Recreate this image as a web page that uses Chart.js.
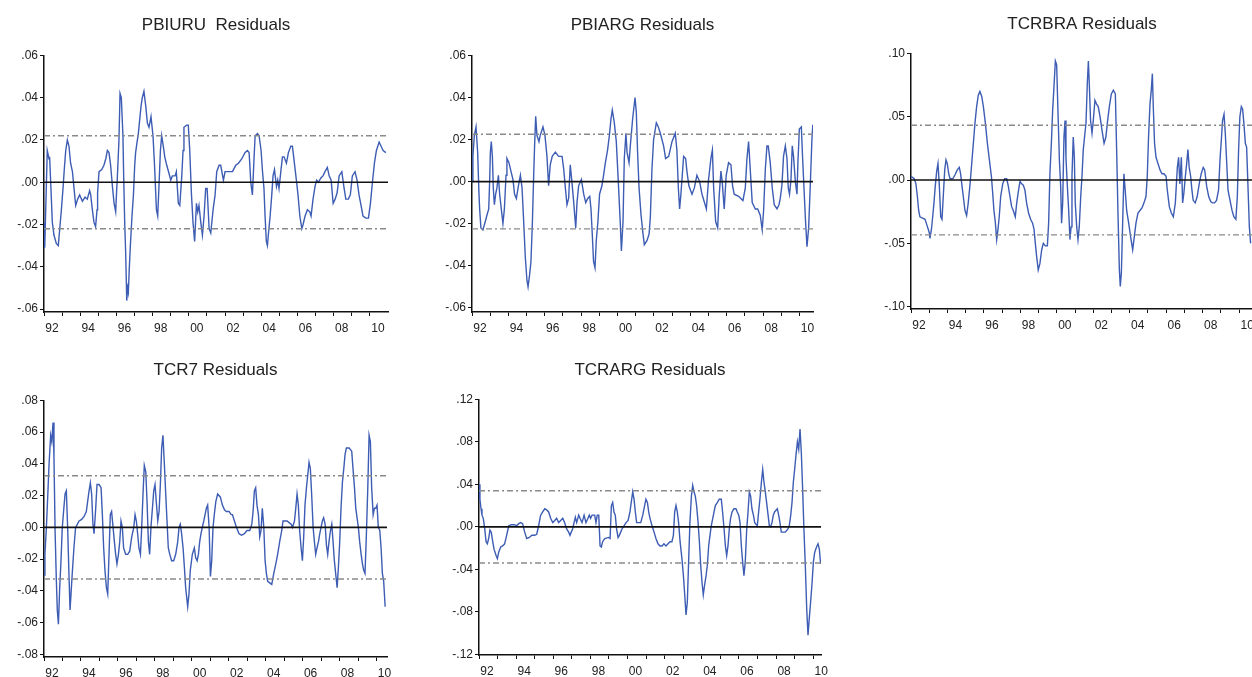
<!DOCTYPE html>
<html>
<head>
<meta charset="utf-8">
<script src="https://cdn.jsdelivr.net/npm/chart.js@4"></script>
<style>
  html, body { margin: 0; padding: 0; background: #fff; width: 1252px; height: 677px; overflow: hidden; }
  .panel { position: absolute; }
</style>
</head>
<body>
<div class="panel" id="p1" style="left:0px;top:0px;width:400px;height:340px"><canvas id="c1" width="400" height="340"></canvas></div>
<div class="panel" id="p2" style="left:428px;top:0px;width:397px;height:340px"><canvas id="c2" width="397" height="340"></canvas></div>
<div class="panel" id="p3" style="left:867px;top:0px;width:386px;height:340px"><canvas id="c3" width="386" height="340"></canvas></div>
<div class="panel" id="p4" style="left:0px;top:345px;width:400px;height:340px"><canvas id="c4" width="400" height="340"></canvas></div>
<div class="panel" id="p5" style="left:435px;top:345px;width:398px;height:340px"><canvas id="c5" width="398" height="340"></canvas></div>
<script>
// residuals: [year, residual] at the turning points
const pbiuru = [
  [1992.00,-0.019],[1992.04,-0.031],[1992.18,0.015],[1992.28,0.011],[1992.31,0.012],[1992.37,0.000],[1992.46,-0.019],[1992.55,-0.025],
  [1992.68,-0.029],[1992.79,-0.030],[1992.87,-0.022],[1992.96,-0.013],[1993.05,-0.003],[1993.12,0.006],[1993.20,0.015],[1993.29,0.020],
  [1993.38,0.017],[1993.47,0.009],[1993.57,0.005],[1993.66,-0.003],[1993.75,-0.011],[1993.86,-0.008],[1993.97,-0.006],[1994.12,-0.009],
  [1994.27,-0.007],[1994.39,-0.008],[1994.52,-0.004],[1994.58,-0.006],[1994.67,-0.013],[1994.76,-0.019],[1994.85,-0.021],[1994.93,-0.013],
  [1994.96,-0.005],[1995.04,0.005],[1995.19,0.006],[1995.31,0.008],[1995.41,0.011],[1995.50,0.015],[1995.59,0.014],[1995.68,0.008],
  [1995.78,-0.002],[1995.87,-0.010],[1995.96,-0.014],[1996.00,-0.006],[1996.05,0.002],[1996.14,0.020],[1996.20,0.042],[1996.27,0.040],
  [1996.36,0.022],[1996.40,0.003],[1996.46,-0.020],[1996.51,-0.033],[1996.57,-0.056],[1996.62,-0.050],[1996.66,-0.052],[1996.71,-0.041],
  [1996.77,-0.030],[1996.86,-0.016],[1996.94,-0.006],[1997.01,0.008],[1997.06,0.014],[1997.14,0.019],[1997.21,0.023],[1997.29,0.030],
  [1997.36,0.036],[1997.43,0.040],[1997.52,0.043],[1997.62,0.036],[1997.71,0.028],[1997.80,0.026],[1997.91,0.031],[1998.02,0.022],
  [1998.10,0.009],[1998.21,-0.013],[1998.28,-0.016],[1998.35,-0.002],[1998.43,0.015],[1998.50,0.022],[1998.59,0.017],[1998.67,0.012],
  [1998.78,0.008],[1998.91,0.004],[1999.00,0.001],[1999.09,0.003],[1999.24,0.003],[1999.31,0.005],[1999.42,-0.010],[1999.50,-0.011],
  [1999.61,0.003],[1999.68,0.015],[1999.73,0.026],[1999.88,0.027],[1999.97,0.027],[2000.05,0.015],[2000.14,-0.005],[2000.23,-0.019],
  [2000.32,-0.028],[2000.42,-0.010],[2000.49,-0.014],[2000.56,-0.011],[2000.66,-0.019],[2000.75,-0.025],[2000.84,-0.016],[2000.93,-0.003],
  [2001.01,-0.003],[2001.12,-0.022],[2001.21,-0.024],[2001.34,-0.013],[2001.45,-0.006],[2001.54,0.005],[2001.67,0.008],[2001.76,0.008],
  [2001.91,0.001],[2002.00,0.005],[2002.13,0.005],[2002.26,0.005],[2002.41,0.005],[2002.59,0.008],[2002.74,0.009],[2002.92,0.011],
  [2003.10,0.014],[2003.23,0.015],[2003.33,0.014],[2003.42,0.000],[2003.51,-0.006],[2003.60,0.011],[2003.66,0.022],[2003.79,0.023],
  [2003.88,0.022],[2003.99,0.015],[2004.06,0.006],[2004.15,-0.003],[2004.21,-0.016],[2004.28,-0.028],[2004.34,-0.030],[2004.39,-0.025],
  [2004.49,-0.016],[2004.58,-0.006],[2004.65,0.003],[2004.73,0.006],[2004.84,-0.002],[2004.91,0.001],[2004.98,-0.003],[2005.08,0.005],
  [2005.17,0.012],[2005.26,0.012],[2005.39,0.009],[2005.50,0.014],[2005.63,0.017],[2005.72,0.017],[2005.83,0.009],[2005.94,0.001],
  [2006.03,-0.006],[2006.13,-0.016],[2006.24,-0.022],[2006.31,-0.020],[2006.42,-0.016],[2006.55,-0.013],[2006.68,-0.014],[2006.75,-0.016],
  [2006.86,-0.008],[2006.97,-0.002],[2007.06,0.001],[2007.16,0.000],[2007.29,0.002],[2007.41,0.003],[2007.52,0.005],[2007.65,0.007],
  [2007.75,0.003],[2007.86,0.001],[2007.97,-0.010],[2008.08,-0.008],[2008.19,-0.005],[2008.30,0.003],[2008.45,0.005],[2008.56,-0.002],
  [2008.67,-0.008],[2008.81,-0.008],[2008.92,-0.006],[2009.03,0.003],[2009.18,0.005],[2009.29,0.001],[2009.40,-0.006],[2009.51,-0.011],
  [2009.62,-0.016],[2009.77,-0.017],[2009.92,-0.017],[2010.03,-0.010],[2010.14,0.000],[2010.25,0.009],[2010.36,0.015],[2010.51,0.019],
  [2010.62,0.017],[2010.73,0.015],[2010.88,0.014]
];
const pbiarg = [
  [1992.00,0.000],[1992.05,0.012],[1992.13,0.022],[1992.22,0.026],[1992.31,0.014],[1992.38,-0.005],[1992.42,-0.013],[1992.49,-0.022],
  [1992.60,-0.023],[1992.73,-0.019],[1992.82,-0.016],[1992.92,-0.013],[1992.97,0.000],[1993.01,0.014],[1993.06,0.019],[1993.12,0.012],
  [1993.17,-0.003],[1993.23,-0.011],[1993.30,-0.006],[1993.37,-0.003],[1993.45,0.003],[1993.52,-0.006],[1993.61,-0.013],[1993.70,-0.020],
  [1993.78,-0.013],[1993.87,0.003],[1993.92,0.011],[1994.03,0.009],[1994.14,0.005],[1994.25,0.001],[1994.34,-0.006],[1994.44,-0.008],
  [1994.55,-0.002],[1994.66,0.003],[1994.75,-0.003],[1994.84,-0.019],[1994.93,-0.036],[1995.02,-0.047],[1995.08,-0.050],[1995.17,-0.044],
  [1995.24,-0.038],[1995.32,-0.019],[1995.39,0.003],[1995.44,0.017],[1995.50,0.031],[1995.57,0.022],[1995.68,0.019],[1995.75,0.022],
  [1995.90,0.026],[1996.01,0.022],[1996.12,0.012],[1996.21,-0.002],[1996.30,0.008],[1996.41,0.012],[1996.58,0.014],[1996.76,0.012],
  [1996.95,0.012],[1997.04,0.006],[1997.13,-0.003],[1997.22,-0.011],[1997.31,-0.008],[1997.40,0.008],[1997.49,0.000],[1997.59,-0.010],
  [1997.70,-0.022],[1997.77,-0.010],[1997.86,-0.002],[1998.01,0.001],[1998.14,-0.006],[1998.25,-0.010],[1998.36,-0.008],[1998.47,-0.007],
  [1998.54,-0.013],[1998.61,-0.025],[1998.68,-0.038],[1998.76,-0.041],[1998.83,-0.028],[1998.92,-0.019],[1999.01,-0.006],[1999.14,-0.002],
  [1999.23,0.003],[1999.33,0.009],[1999.45,0.015],[1999.55,0.022],[1999.64,0.030],[1999.71,0.034],[1999.82,0.028],[1999.93,0.019],
  [2000.04,0.000],[2000.15,-0.020],[2000.21,-0.033],[2000.30,-0.019],[2000.37,0.011],[2000.46,0.023],[2000.52,0.014],[2000.63,0.009],
  [2000.70,0.017],[2000.83,0.030],[2000.96,0.040],[2001.03,0.033],[2001.10,0.014],[2001.18,-0.003],[2001.29,-0.016],[2001.40,-0.025],
  [2001.47,-0.030],[2001.62,-0.028],[2001.73,-0.025],[2001.80,-0.017],[2001.89,0.006],[2001.98,0.020],[2002.13,0.028],[2002.24,0.026],
  [2002.35,0.023],[2002.53,0.017],[2002.64,0.011],[2002.81,0.012],[2002.99,0.019],[2003.17,0.023],[2003.26,0.015],[2003.34,-0.003],
  [2003.41,-0.013],[2003.48,-0.006],[2003.63,0.012],[2003.74,0.011],[2003.81,0.005],[2003.92,-0.002],[2004.09,-0.006],[2004.22,-0.003],
  [2004.36,0.003],[2004.51,0.000],[2004.64,-0.006],[2004.88,-0.013],[2005.00,0.001],[2005.13,0.011],[2005.21,0.015],[2005.28,-0.003],
  [2005.39,-0.019],[2005.50,-0.022],[2005.59,-0.006],[2005.68,0.005],[2005.75,0.000],[2005.86,-0.013],[2005.97,0.003],[2006.10,0.009],
  [2006.23,0.008],[2006.32,-0.002],[2006.41,-0.006],[2006.65,-0.007],[2006.89,-0.009],[2007.02,-0.003],[2007.11,0.011],[2007.20,0.019],
  [2007.29,0.006],[2007.40,-0.010],[2007.57,-0.013],[2007.70,-0.013],[2007.84,-0.016],[2007.95,-0.023],[2008.03,-0.013],[2008.12,0.006],
  [2008.21,0.017],[2008.28,0.017],[2008.39,0.009],[2008.50,-0.003],[2008.61,-0.011],[2008.76,-0.013],[2008.87,-0.011],[2008.94,-0.008],
  [2009.03,-0.002],[2009.12,0.012],[2009.22,0.017],[2009.31,0.011],[2009.38,-0.003],[2009.45,-0.006],[2009.53,0.001],[2009.60,0.017],
  [2009.67,0.012],[2009.77,0.000],[2009.86,-0.006],[2009.91,0.009],[2009.99,0.025],[2010.10,0.026],[2010.17,0.011],[2010.26,-0.006],
  [2010.33,-0.019],[2010.41,-0.031],[2010.50,-0.022],[2010.59,-0.002],[2010.68,0.020],[2010.73,0.027]
];
const tcrbra = [
  [1992.00,0.003],[1992.18,0.001],[1992.27,-0.003],[1992.35,-0.013],[1992.42,-0.024],[1992.49,-0.029],[1992.64,-0.030],[1992.77,-0.031],
  [1992.86,-0.035],[1992.95,-0.039],[1993.01,-0.042],[1993.04,-0.046],[1993.12,-0.039],[1993.19,-0.029],[1993.26,-0.018],[1993.33,-0.005],
  [1993.41,0.007],[1993.48,0.013],[1993.55,-0.003],[1993.63,-0.029],[1993.70,-0.031],[1993.77,-0.013],[1993.85,0.008],[1993.92,0.016],
  [1993.99,0.013],[1994.07,0.005],[1994.14,0.001],[1994.29,0.001],[1994.41,0.004],[1994.54,0.008],[1994.65,0.010],[1994.72,0.005],
  [1994.80,-0.005],[1994.87,-0.013],[1994.96,-0.024],[1995.05,-0.028],[1995.14,-0.018],[1995.24,-0.003],[1995.33,0.013],[1995.42,0.029],
  [1995.51,0.045],[1995.60,0.058],[1995.69,0.067],[1995.78,0.070],[1995.88,0.066],[1995.97,0.058],[1996.08,0.045],[1996.19,0.029],
  [1996.30,0.016],[1996.41,0.003],[1996.48,-0.010],[1996.55,-0.024],[1996.63,-0.034],[1996.70,-0.047],[1996.77,-0.039],[1996.84,-0.029],
  [1996.92,-0.013],[1997.03,-0.003],[1997.14,0.001],[1997.25,0.001],[1997.34,-0.005],[1997.43,-0.013],[1997.52,-0.021],[1997.61,-0.024],
  [1997.72,-0.029],[1997.80,-0.018],[1997.90,-0.008],[1997.98,-0.001],[1998.07,-0.003],[1998.16,-0.004],[1998.25,-0.008],[1998.34,-0.018],
  [1998.45,-0.026],[1998.56,-0.031],[1998.67,-0.034],[1998.75,-0.039],[1998.82,-0.050],[1998.89,-0.060],[1998.98,-0.071],[1999.07,-0.066],
  [1999.17,-0.055],[1999.26,-0.050],[1999.37,-0.052],[1999.48,-0.052],[1999.55,-0.034],[1999.62,0.005],[1999.70,0.029],[1999.77,0.055],
  [1999.84,0.073],[1999.92,0.094],[1999.99,0.091],[2000.06,0.055],[2000.14,0.016],[2000.21,-0.005],[2000.26,-0.034],[2000.32,-0.018],
  [2000.39,0.034],[2000.45,0.047],[2000.50,0.018],[2000.57,-0.003],[2000.65,-0.024],[2000.72,-0.047],[2000.78,-0.037],[2000.83,0.003],
  [2000.90,0.034],[2000.96,0.018],[2001.01,-0.018],[2001.09,-0.037],[2001.16,-0.047],[2001.23,-0.037],[2001.31,-0.013],[2001.38,0.003],
  [2001.45,0.024],[2001.52,0.034],[2001.60,0.045],[2001.67,0.076],[2001.73,0.094],[2001.78,0.076],[2001.85,0.047],[2001.93,0.037],
  [2002.00,0.047],[2002.09,0.063],[2002.18,0.060],[2002.27,0.058],[2002.37,0.050],[2002.48,0.039],[2002.59,0.029],[2002.69,0.034],
  [2002.77,0.045],[2002.88,0.058],[2002.99,0.068],[2003.10,0.071],[2003.21,0.068],[2003.28,0.024],[2003.35,-0.024],[2003.43,-0.071],
  [2003.48,-0.084],[2003.54,-0.073],[2003.61,-0.034],[2003.68,0.005],[2003.75,-0.008],[2003.83,-0.024],[2003.94,-0.034],[2004.05,-0.045],
  [2004.16,-0.055],[2004.23,-0.047],[2004.34,-0.034],[2004.45,-0.026],[2004.56,-0.024],[2004.67,-0.022],[2004.78,-0.018],[2004.89,-0.013],
  [2004.96,0.003],[2005.03,0.034],[2005.11,0.060],[2005.18,0.071],[2005.24,0.084],[2005.29,0.058],[2005.36,0.029],[2005.44,0.018],
  [2005.55,0.013],[2005.66,0.008],[2005.77,0.005],[2005.88,0.005],[2005.99,0.003],[2006.06,-0.008],[2006.17,-0.021],[2006.28,-0.026],
  [2006.39,-0.029],[2006.50,-0.018],[2006.61,0.010],[2006.68,0.018],[2006.75,-0.003],[2006.83,0.018],[2006.90,-0.018],[2006.97,-0.010],
  [2007.05,0.003],[2007.12,0.013],[2007.19,0.024],[2007.26,0.010],[2007.34,0.003],[2007.41,-0.008],[2007.48,-0.016],[2007.59,-0.018],
  [2007.70,-0.013],[2007.81,-0.003],[2007.92,0.005],[2008.03,0.010],[2008.11,0.008],[2008.22,-0.005],[2008.33,-0.013],[2008.44,-0.017],
  [2008.54,-0.018],[2008.65,-0.018],[2008.76,-0.016],[2008.87,-0.008],[2008.95,0.016],[2009.02,0.031],[2009.09,0.047],[2009.17,0.052],
  [2009.24,0.037],[2009.31,0.016],[2009.39,-0.008],[2009.50,-0.016],[2009.61,-0.024],[2009.71,-0.029],[2009.82,-0.031],[2009.90,-0.013],
  [2009.97,0.024],[2010.04,0.050],[2010.12,0.058],[2010.19,0.056],[2010.26,0.045],[2010.34,0.029],[2010.41,0.026],[2010.48,-0.003],
  [2010.56,-0.037],[2010.63,-0.050]
];
const tcr7 = [
  [1992.00,-0.030],[1992.05,-0.017],[1992.13,0.000],[1992.20,0.019],[1992.27,0.039],[1992.36,0.058],[1992.42,0.054],[1992.49,0.066],
  [1992.54,0.044],[1992.60,-0.002],[1992.67,-0.034],[1992.72,-0.052],[1992.78,-0.061],[1992.85,-0.038],[1992.92,-0.021],[1992.99,0.000],
  [1993.06,0.010],[1993.14,0.021],[1993.21,0.023],[1993.28,0.000],[1993.35,-0.029],[1993.41,-0.052],[1993.46,-0.052],[1993.53,-0.029],
  [1993.62,-0.013],[1993.71,0.000],[1993.81,0.002],[1993.90,0.004],[1994.04,0.005],[1994.18,0.007],[1994.29,0.010],[1994.36,0.016],
  [1994.44,0.023],[1994.51,0.028],[1994.58,0.021],[1994.65,0.002],[1994.71,-0.004],[1994.80,0.012],[1994.87,0.027],[1994.98,0.027],
  [1995.09,0.025],[1995.16,0.008],[1995.23,-0.013],[1995.30,-0.027],[1995.38,-0.038],[1995.45,-0.042],[1995.52,-0.017],[1995.59,0.008],
  [1995.66,0.010],[1995.74,0.000],[1995.81,-0.009],[1995.88,-0.017],[1995.95,-0.023],[1996.03,-0.017],[1996.10,-0.009],[1996.17,0.004],
  [1996.24,0.000],[1996.31,-0.013],[1996.42,-0.017],[1996.53,-0.017],[1996.64,-0.015],[1996.75,-0.006],[1996.86,0.000],[1996.93,0.008],
  [1997.00,0.004],[1997.07,-0.004],[1997.14,-0.013],[1997.22,-0.017],[1997.29,0.000],[1997.36,0.021],[1997.43,0.039],[1997.51,0.035],
  [1997.58,0.016],[1997.65,-0.009],[1997.72,-0.017],[1997.79,0.000],[1997.87,0.012],[1997.94,0.023],[1998.01,0.027],[1998.08,0.016],
  [1998.16,0.004],[1998.23,0.010],[1998.30,0.027],[1998.37,0.050],[1998.44,0.058],[1998.52,0.039],[1998.59,0.021],[1998.66,0.004],
  [1998.73,-0.013],[1998.81,-0.017],[1998.91,-0.021],[1999.02,-0.021],[1999.13,-0.017],[1999.24,-0.009],[1999.31,0.000],[1999.38,0.002],
  [1999.45,-0.004],[1999.53,-0.013],[1999.60,-0.025],[1999.67,-0.038],[1999.78,-0.050],[1999.85,-0.042],[1999.92,-0.027],[2000.03,-0.017],
  [2000.14,-0.013],[2000.21,-0.019],[2000.29,-0.021],[2000.36,-0.017],[2000.43,-0.009],[2000.50,-0.004],[2000.57,0.000],[2000.65,0.004],
  [2000.72,0.008],[2000.79,0.012],[2000.86,0.014],[2000.94,0.000],[2001.01,-0.031],[2001.08,-0.021],[2001.15,0.000],[2001.22,0.008],
  [2001.30,0.016],[2001.40,0.021],[2001.55,0.019],[2001.66,0.014],[2001.77,0.011],[2001.87,0.010],[2002.02,0.010],[2002.13,0.008],
  [2002.20,0.008],[2002.31,0.004],[2002.42,0.000],[2002.56,-0.004],[2002.70,-0.005],[2002.85,-0.004],[2002.99,-0.002],[2003.14,-0.002],
  [2003.25,0.002],[2003.32,0.010],[2003.39,0.023],[2003.46,0.025],[2003.53,0.014],[2003.61,0.008],[2003.68,-0.006],[2003.75,-0.002],
  [2003.82,0.012],[2003.90,0.000],[2003.97,-0.021],[2004.04,-0.029],[2004.11,-0.034],[2004.22,-0.035],[2004.33,-0.036],[2004.44,-0.029],
  [2004.55,-0.023],[2004.65,-0.017],[2004.76,-0.009],[2004.87,-0.002],[2004.94,0.004],[2005.05,0.004],[2005.16,0.004],[2005.27,0.003],
  [2005.38,0.002],[2005.45,0.000],[2005.56,0.004],[2005.63,0.012],[2005.70,0.021],[2005.77,0.014],[2005.84,-0.002],[2005.92,-0.013],
  [2005.99,-0.021],[2006.06,-0.006],[2006.13,0.014],[2006.21,0.025],[2006.28,0.033],[2006.35,0.041],[2006.42,0.037],[2006.49,0.021],
  [2006.57,0.000],[2006.64,-0.009],[2006.71,-0.017],[2006.78,-0.013],[2006.86,-0.009],[2006.93,-0.004],[2007.00,0.000],[2007.07,0.004],
  [2007.14,0.006],[2007.22,0.002],[2007.29,-0.011],[2007.36,-0.017],[2007.43,-0.009],[2007.51,-0.002],[2007.58,0.002],[2007.65,-0.009],
  [2007.72,-0.021],[2007.79,-0.029],[2007.87,-0.038],[2007.94,-0.025],[2008.01,-0.009],[2008.08,0.012],[2008.16,0.029],[2008.23,0.037],
  [2008.30,0.046],[2008.37,0.050],[2008.52,0.050],[2008.66,0.048],[2008.73,0.037],[2008.81,0.025],[2008.88,0.012],[2008.95,0.006],
  [2009.02,0.000],[2009.09,-0.009],[2009.17,-0.017],[2009.24,-0.023],[2009.31,-0.027],[2009.38,-0.029],[2009.45,-0.006],[2009.53,0.025],
  [2009.60,0.058],[2009.67,0.054],[2009.74,0.025],[2009.82,0.008],[2009.89,0.012],[2009.96,0.012],[2010.03,0.014],[2010.10,0.000],
  [2010.18,-0.002],[2010.25,-0.013],[2010.32,-0.029],[2010.39,-0.034],[2010.47,-0.050]
];
const tcrarg = [
  [1992.00,0.040],[1992.05,0.026],[1992.11,0.017],[1992.16,0.011],[1992.23,0.008],[1992.31,-0.002],[1992.38,-0.014],[1992.45,-0.016],
  [1992.52,-0.011],[1992.59,-0.003],[1992.66,-0.005],[1992.74,-0.014],[1992.81,-0.021],[1992.92,-0.027],[1992.99,-0.030],[1993.06,-0.024],
  [1993.17,-0.019],[1993.27,-0.018],[1993.38,-0.016],[1993.49,-0.008],[1993.60,0.001],[1993.74,0.002],[1993.89,0.002],[1994.03,0.001],
  [1994.14,0.003],[1994.24,0.004],[1994.35,0.003],[1994.46,-0.005],[1994.57,-0.011],[1994.71,-0.010],[1994.85,-0.008],[1995.00,-0.008],
  [1995.11,-0.007],[1995.21,0.001],[1995.32,0.011],[1995.43,0.014],[1995.54,0.017],[1995.64,0.016],[1995.75,0.014],[1995.86,0.008],
  [1995.97,0.004],[1996.08,0.006],[1996.18,0.008],[1996.29,0.004],[1996.40,0.006],[1996.51,0.008],[1996.61,0.004],[1996.72,-0.002],
  [1996.83,-0.005],[1996.90,-0.008],[1996.97,-0.005],[1997.04,-0.002],[1997.12,0.004],[1997.19,0.009],[1997.26,0.004],[1997.37,0.011],
  [1997.44,0.008],[1997.55,0.004],[1997.66,0.011],[1997.76,0.004],[1997.87,0.008],[1997.94,0.011],[1998.01,0.008],[1998.09,0.011],
  [1998.23,0.011],[1998.30,0.004],[1998.37,0.011],[1998.45,0.011],[1998.52,-0.018],[1998.59,-0.019],[1998.66,-0.014],[1998.77,-0.011],
  [1998.98,-0.010],[1999.06,-0.011],[1999.13,0.020],[1999.20,0.023],[1999.27,0.014],[1999.34,0.011],[1999.41,-0.002],[1999.49,-0.010],
  [1999.56,-0.008],[1999.63,-0.005],[1999.70,-0.002],[1999.81,0.001],[1999.92,0.004],[2000.03,0.006],[2000.13,0.014],[2000.20,0.023],
  [2000.28,0.033],[2000.35,0.026],[2000.42,0.014],[2000.49,0.004],[2000.71,0.004],[2000.82,0.011],[2000.92,0.020],[2000.99,0.026],
  [2001.07,0.023],[2001.14,0.014],[2001.21,0.008],[2001.32,0.001],[2001.43,-0.005],[2001.53,-0.011],[2001.64,-0.016],[2001.75,-0.018],
  [2001.86,-0.018],[2001.96,-0.016],[2002.07,-0.018],[2002.18,-0.016],[2002.29,-0.014],[2002.39,-0.014],[2002.47,-0.008],[2002.54,0.014],
  [2002.61,0.020],[2002.68,0.014],[2002.75,0.004],[2002.83,-0.014],[2002.93,-0.030],[2003.01,-0.046],[2003.08,-0.064],[2003.15,-0.083],
  [2003.22,-0.071],[2003.29,-0.033],[2003.36,0.004],[2003.44,0.029],[2003.51,0.039],[2003.58,0.033],[2003.65,0.029],[2003.72,0.020],
  [2003.80,0.004],[2003.87,-0.014],[2003.94,-0.036],[2004.01,-0.052],[2004.08,-0.064],[2004.15,-0.055],[2004.23,-0.046],[2004.30,-0.036],
  [2004.37,-0.018],[2004.44,-0.008],[2004.51,0.001],[2004.59,0.008],[2004.66,0.014],[2004.73,0.020],[2004.84,0.023],[2004.94,0.026],
  [2005.05,0.026],[2005.12,0.014],[2005.20,-0.002],[2005.27,-0.018],[2005.34,-0.027],[2005.41,-0.018],[2005.48,-0.002],[2005.55,0.008],
  [2005.63,0.014],[2005.73,0.017],[2005.84,0.017],[2005.91,0.014],[2005.99,0.011],[2006.06,0.004],[2006.13,-0.018],[2006.20,-0.033],
  [2006.27,-0.046],[2006.34,-0.033],[2006.42,-0.002],[2006.49,0.014],[2006.56,0.033],[2006.63,0.029],[2006.70,0.017],[2006.78,0.011],
  [2006.85,0.004],[2006.99,0.001],[2007.06,0.014],[2007.13,0.026],[2007.21,0.042],[2007.28,0.054],[2007.35,0.042],[2007.42,0.033],
  [2007.49,0.023],[2007.57,0.011],[2007.64,0.001],[2007.71,0.000],[2007.78,0.004],[2007.85,0.011],[2007.92,0.014],[2008.07,0.017],
  [2008.14,0.011],[2008.21,0.004],[2008.28,-0.005],[2008.50,-0.005],[2008.64,-0.002],[2008.71,0.001],[2008.79,0.011],[2008.86,0.023],
  [2008.93,0.042],[2009.00,0.054],[2009.07,0.067],[2009.15,0.080],[2009.22,0.073],[2009.29,0.092],[2009.36,0.070],[2009.43,0.036],
  [2009.50,-0.002],[2009.58,-0.039],[2009.65,-0.077],[2009.72,-0.102],[2009.79,-0.086],[2009.86,-0.071],[2009.93,-0.055],[2010.01,-0.033],
  [2010.08,-0.024],[2010.18,-0.019],[2010.26,-0.016],[2010.33,-0.021],[2010.40,-0.035]
];

// +/- 2 s.e. bands
const bandPbiuru = 0.022;
const bandPbiarg = 0.0225;
const bandTcrbra = 0.0433;
const bandTcr7 = 0.0325;
const bandTcrarg = 0.034;

const ticksSix = [-0.06, -0.04, -0.02, 0, 0.02, 0.04, 0.06];
const ticksTen = [-0.10, -0.05, 0, 0.05, 0.10];
const ticksEight = [-0.08, -0.06, -0.04, -0.02, 0, 0.02, 0.04, 0.06, 0.08];
const ticksTwelve = [-0.12, -0.08, -0.04, 0, 0.04, 0.08, 0.12];
const years = [1992,1993,1994,1995,1996,1997,1998,1999,2000,2001,2002,2003,2004,2005,2006,2007,2008,2009,2010];

const FONT = "'Liberation Sans', Arial, sans-serif";

function fmtY(v) {
  if (Math.abs(v) < 1e-9) return '.00';
  const s = Math.abs(v).toFixed(2).replace(/^0/, '');
  return (v < 0 ? '-' : '') + s;
}

function makeChart(id, title, series, band, yTicks, yMin, yMax, xMax, opt) {
  const ctx = document.getElementById(id).getContext('2d');
  const pts = series.map(p => ({ x: p[0], y: p[1] }));
  const flat = v => [{ x: 1992, y: v }, { x: xMax, y: v }];
  return new Chart(ctx, {
    type: 'line',
    data: {
      datasets: [
        { data: flat(0), borderColor: '#111', borderWidth: 1.6 },
        { data: flat(band), borderColor: '#8a8a8a', borderWidth: 1.4, borderDash: [6, 3, 2, 3] },
        { data: flat(-band), borderColor: '#8a8a8a', borderWidth: 1.4, borderDash: [6, 3, 2, 3] },
        { data: pts, borderColor: '#3d5cb3', borderWidth: 1.4 }
      ]
    },
    options: {
      responsive: false,
      animation: false,
      elements: { point: { radius: 0 }, line: { tension: 0, fill: false } },
      layout: { padding: { left: 0, right: opt.right, top: 0, bottom: 0 } },
      plugins: {
        legend: { display: false },
        tooltip: { enabled: false },
        title: {
          display: true,
          text: title,
          fullSize: false,
          color: '#222',
          font: { family: FONT, size: 17, weight: 'normal' },
          padding: { top: opt.titleTop, bottom: opt.titleBottom }
        }
      },
      scales: {
        x: {
          type: 'linear',
          min: 1992,
          max: xMax,
          afterBuildTicks: s => { s.ticks = years.map(v => ({ value: v })); },
          afterFit: s => { s.height = opt.xHeight; },
          grid: { drawOnChartArea: false, drawTicks: true, tickLength: 4, color: '#111', lineWidth: 1 },
          border: { display: true, color: '#111', width: 1.5 },
          ticks: {
            autoSkip: false,
            maxRotation: 0,
            padding: 5,
            labelOffset: 8,
            color: '#222',
            font: { family: FONT, size: 12 },
            callback: v => (Math.round(v) % 2 === 0 ? String(Math.round(v) % 100).padStart(2, '0') : '')
          }
        },
        y: {
          type: 'linear',
          min: yMin,
          max: yMax,
          afterBuildTicks: s => { s.ticks = yTicks.map(v => ({ value: v })); },
          afterFit: s => { s.width = 44; },
          grid: { drawOnChartArea: false, drawTicks: true, tickLength: 4, color: '#111', lineWidth: 1 },
          border: { display: true, color: '#111', width: 1.5 },
          ticks: {
            padding: 2,
            color: '#222',
            font: { family: FONT, size: 12 },
            callback: v => fmtY(v)
          }
        }
      }
    }
  });
}

makeChart('c1', 'PBIURU  Residuals', pbiuru, bandPbiuru, ticksSix, -0.0614, 0.06, 2011.0,
  { right: 12, titleTop: 15, titleBottom: 20, xHeight: 28 });
makeChart('c2', 'PBIARG Residuals', pbiarg, bandPbiarg, ticksSix, -0.062, 0.06, 2010.74,
  { right: 12, titleTop: 15, titleBottom: 20, xHeight: 28 });
makeChart('c3', 'TCRBRA Residuals', tcrbra, bandTcrbra, ticksTen, -0.1018, 0.10, 2010.76,
  { right: 0, titleTop: 14, titleBottom: 19, xHeight: 31 });
makeChart('c4', 'TCR7 Residuals', tcr7, bandTcr7, ticksEight, -0.0817, 0.08, 2010.57,
  { right: 13, titleTop: 15, titleBottom: 20, xHeight: 28 });
makeChart('c5', 'TCRARG Residuals', tcrarg, bandTcrarg, ticksTwelve, -0.1207, 0.12, 2010.42,
  { right: 12, titleTop: 15, titleBottom: 19, xHeight: 30 });
</script>
</body>
</html>
